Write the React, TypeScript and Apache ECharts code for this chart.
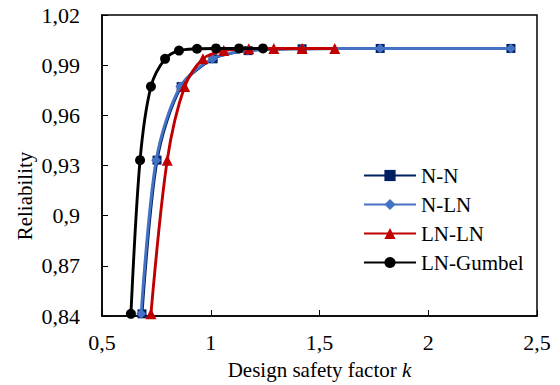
import React, { useEffect, useRef } from "react";
import * as echarts from "echarts";

// Design safety factor k and the resulting reliability for each model pair
const nnK = [0.684, 0.753, 0.864, 1.011, 1.172, 1.42, 1.779, 2.38];
const nnR = [0.8413, 0.9332, 0.9772, 0.9938, 0.9987, 0.9998, 1.0, 1.0];

const nlnK = [0.68, 0.749, 0.86, 1.008, 1.17, 1.42, 1.779, 2.38];
const nlnR = [0.8413, 0.9332, 0.9772, 0.9938, 0.9987, 0.9998, 1.0, 1.0];

const lnlnK = [0.725, 0.8, 0.88, 0.964, 1.06, 1.175, 1.29, 1.42, 1.57];
const lnlnR = [0.8413, 0.9332, 0.9772, 0.9938, 0.9987, 0.9998, 1.0, 1.0, 1.0];

const lngK = [0.633, 0.675, 0.725, 0.79, 0.854, 0.937, 1.024, 1.13, 1.24];
const lngR = [0.8413, 0.9332, 0.9772, 0.9938, 0.9987, 0.9998, 1.0, 1.0, 1.0];

const seriesNames = ["N-N", "N-LN", "LN-LN", "LN-Gumbel"];
const seriesColors = ["#002060", "#4472C4", "#C00000", "#000000"];
const seriesSymbols = ["rect", "diamond", "triangle", "circle"];
const seriesSizes = [9, 10, 11, 10];
const seriesK = [nnK, nlnK, lnlnK, lngK];
const seriesR = [nnR, nlnR, lnlnR, lngR];

const FONT = "'Liberation Serif', 'Times New Roman', Times, serif";

const fmt = (v: number) => String(+v.toFixed(2)).replace(".", ",");

export default function App() {
  const ref = useRef<HTMLDivElement>(null);

  useEffect(() => {
    if (!ref.current) return;
    const chart = echarts.init(ref.current, null, { renderer: "svg" });

    const series = seriesNames.map((name, i) => ({
      name,
      type: "line",
      data: seriesK[i].map((k, j) => [k, seriesR[i][j]]),
      smooth: 0.3,
      symbol: seriesSymbols[i],
      symbolSize: seriesSizes[i],
      showAllSymbol: true,
      itemStyle: { color: seriesColors[i] },
      lineStyle: { color: seriesColors[i], width: 2.9 },
      z: 2 + i,
    }));

    chart.setOption({
      animation: false,
      backgroundColor: "#ffffff",
      textStyle: { fontFamily: FONT, color: "#000" },
      grid: {
        left: 102,
        right: 23,
        top: 15,
        bottom: 65,
        show: true,
        borderColor: "#000",
        borderWidth: 1.5,
      },
      legend: {
        orient: "vertical",
        left: 363,
        top: 165,
        padding: 0,
        itemWidth: 52,
        itemHeight: 14,
        itemGap: 8,
        data: seriesNames,
        textStyle: { fontFamily: FONT, fontSize: 21, color: "#000" },
      },
      xAxis: {
        type: "value",
        min: 0.5,
        max: 2.5,
        interval: 0.5,
        name: "{a|Design safety factor }{b|k}",
        nameLocation: "middle",
        nameGap: 43,
        nameTextStyle: {
          rich: {
            a: { fontFamily: FONT, fontSize: 21, color: "#000" },
            b: { fontFamily: FONT, fontSize: 21, color: "#000", fontStyle: "italic" },
          },
        },
        axisLine: { show: true, lineStyle: { color: "#000", width: 1.5 } },
        axisTick: { show: true, inside: true, length: 6, lineStyle: { color: "#000", width: 1 } },
        axisLabel: { fontFamily: FONT, fontSize: 22, color: "#000", margin: 15, formatter: fmt },
        splitLine: { show: false },
      },
      yAxis: {
        type: "value",
        min: 0.84,
        max: 1.02,
        interval: 0.03,
        axisLine: { show: true, lineStyle: { color: "#000", width: 1.5 } },
        axisTick: { show: true, inside: true, length: 6, lineStyle: { color: "#000", width: 1 } },
        axisLabel: { fontFamily: FONT, fontSize: 22, color: "#000", margin: 22, formatter: fmt },
        splitLine: { show: false },
      },
      graphic: [
        {
          type: "text",
          x: 25,
          y: 196,
          rotation: Math.PI / 2,
          style: {
            text: "Reliability",
            fontFamily: FONT,
            fontSize: 21,
            fill: "#000",
            textAlign: "center",
            textVerticalAlign: "middle",
          },
        },
      ],
      series,
    });

    return () => chart.dispose();
  }, []);

  return (
    <div
      ref={ref}
      style={{ position: "fixed", left: 0, top: 0, width: 560, height: 385 }}
    />
  );
}
